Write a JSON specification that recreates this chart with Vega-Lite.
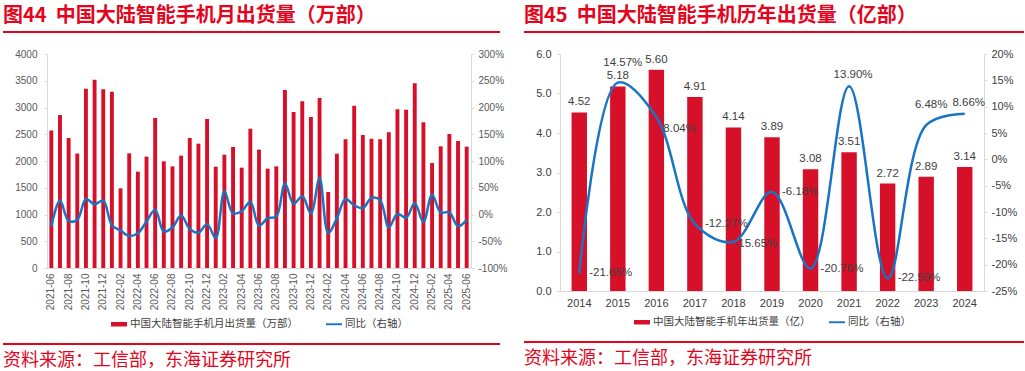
{
  "$schema": "https://vega.github.io/schema/vega-lite/v6.json",
  "background": "white",
  "padding": {"left": 3, "top": 6, "right": 0, "bottom": 0},
  "config": {
    "font": "Liberation Sans",
    "locale": {"number": {"decimal": ".", "thousands": ",", "grouping": [3], "currency": ["", ""], "minus": "-"}},
    "view": {"stroke": null},
    "axis": {"labelColor": "#595959", "labelFont": "Liberation Sans", "domainColor": "#D9D9D9", "tickColor": "#D9D9D9", "grid": false, "tickSize": 3, "labelOverlap": false},
    "legend": {"labelFont": "Noto Sans CJK SC", "labelFontSize": 10.5, "labelColor": "#404040", "labelLimit": 400, "layout": {"bottom": {"anchor": "middle"}}}
  },
  "datasets": {
    "monthly": [
      {"m": "2021-06", "ship": 2570, "yoy": -22}, {"m": "2021-07", "ship": 2860, "yoy": 26}, {"m": "2021-08", "ship": 2430, "yoy": -12},
      {"m": "2021-09", "ship": 2140, "yoy": -10}, {"m": "2021-10", "ship": 3352, "yoy": 29}, {"m": "2021-11", "ship": 3520, "yoy": 19},
      {"m": "2021-12", "ship": 3340, "yoy": 26}, {"m": "2022-01", "ship": 3296, "yoy": -20}, {"m": "2022-02", "ship": 1489, "yoy": -30},
      {"m": "2022-03", "ship": 2143, "yoy": -40}, {"m": "2022-04", "ship": 1800, "yoy": -35}, {"m": "2022-05", "ship": 2081, "yoy": -13},
      {"m": "2022-06", "ship": 2804, "yoy": 9}, {"m": "2022-07", "ship": 1994, "yoy": -32}, {"m": "2022-08", "ship": 1900, "yoy": -24},
      {"m": "2022-09", "ship": 2100, "yoy": -2}, {"m": "2022-10", "ship": 2430, "yoy": -27}, {"m": "2022-11", "ship": 2324, "yoy": -34},
      {"m": "2022-12", "ship": 2785, "yoy": -18}, {"m": "2023-01", "ship": 1894, "yoy": -44}, {"m": "2023-02", "ship": 2118, "yoy": 43},
      {"m": "2023-03", "ship": 2262, "yoy": 2}, {"m": "2023-04", "ship": 1875, "yoy": 6}, {"m": "2023-05", "ship": 2604, "yoy": 24},
      {"m": "2023-06", "ship": 2212, "yoy": -21}, {"m": "2023-07", "ship": 1857, "yoy": -7}, {"m": "2023-08", "ship": 1900, "yoy": -4},
      {"m": "2023-09", "ship": 3327, "yoy": 58}, {"m": "2023-10", "ship": 2916, "yoy": 20}, {"m": "2023-11", "ship": 3115, "yoy": 34},
      {"m": "2023-12", "ship": 2822, "yoy": 2}, {"m": "2024-01", "ship": 3178, "yoy": 68}, {"m": "2024-02", "ship": 1421, "yoy": -35},
      {"m": "2024-03", "ship": 2137, "yoy": -7}, {"m": "2024-04", "ship": 2405, "yoy": 29}, {"m": "2024-05", "ship": 3034, "yoy": 17},
      {"m": "2024-06", "ship": 2486, "yoy": 12}, {"m": "2024-07", "ship": 2417, "yoy": 31}, {"m": "2024-08", "ship": 2405, "yoy": 27},
      {"m": "2024-09", "ship": 2536, "yoy": -24}, {"m": "2024-10", "ship": 2966, "yoy": 1}, {"m": "2024-11", "ship": 2960, "yoy": -6},
      {"m": "2024-12", "ship": 3452, "yoy": 21}, {"m": "2025-01", "ship": 2723, "yoy": -14}, {"m": "2025-02", "ship": 1963, "yoy": 37},
      {"m": "2025-03", "ship": 2274, "yoy": 4}, {"m": "2025-04", "ship": 2505, "yoy": 4}, {"m": "2025-05", "ship": 2374, "yoy": -22},
      {"m": "2025-06", "ship": 2268, "yoy": -10}
    ],
    "annual": [
      {"year": "2014", "ship": 4.52, "yoy": -0.2165}, {"year": "2015", "ship": 5.18, "yoy": 0.1457},
      {"year": "2016", "ship": 5.60, "yoy": 0.0804}, {"year": "2017", "ship": 4.91, "yoy": -0.1227},
      {"year": "2018", "ship": 4.14, "yoy": -0.1565}, {"year": "2019", "ship": 3.89, "yoy": -0.0618},
      {"year": "2020", "ship": 3.08, "yoy": -0.2076}, {"year": "2021", "ship": 3.51, "yoy": 0.1390},
      {"year": "2022", "ship": 2.72, "yoy": -0.2259}, {"year": "2023", "ship": 2.89, "yoy": 0.0648},
      {"year": "2024", "ship": 3.14, "yoy": 0.0866}
    ],
    "blank": [{"t": ""}]
  },
  "spacing": 17,
  "resolve": {"scale": {"color": "independent"}, "legend": {"color": "independent"}},
  "hconcat": [
    {
      "columns": 1,
      "align": "none",
      "spacing": 11,
      "resolve": {"scale": {"color": "independent"}, "legend": {"color": "independent"}},
      "concat": [
        {
          "width": 497, "height": 2,
          "data": {"name": "blank"},
          "mark": {"type": "text"},
          "encoding": {"text": {"field": "t"}},
          "view": {"fill": "#E3051C", "stroke": null},
          "title": {"text": "图44\u00a0\u00a0中国大陆智能手机月出货量（万部）", "anchor": "start", "font": "Noto Sans CJK SC", "fontSize": 20, "fontWeight": "bold", "color": "#E3051C", "offset": 0}
        },
        {
          "columns": 1,
          "align": "none",
          "spacing": 8,
          "resolve": {"scale": {"color": "independent"}, "legend": {"color": "independent"}},
          "concat": [
            {
              "spacing": 3,
              "resolve": {"scale": {"color": "independent"}, "legend": {"color": "independent"}},
              "hconcat": [
                {
                  "width": 1, "height": 1,
                  "data": {"name": "blank"},
                  "mark": {"type": "text"},
                  "encoding": {"text": {"field": "t"}}
                },
                {
                  "width": 424, "height": 214,
                  "data": {"name": "monthly"},
                  "encoding": {
                    "x": {"field": "m", "type": "ordinal", "title": null,
                      "scale": {"paddingInner": 0.55, "paddingOuter": 0.275},
                      "axis": {"labelAngle": -90, "labelFontSize": 10, "ticks": false, "labelPadding": 5,
                        "values": ["2021-06","2021-08","2021-10","2021-12","2022-02","2022-04","2022-06","2022-08","2022-10","2022-12","2023-02","2023-04","2023-06","2023-08","2023-10","2023-12","2024-02","2024-04","2024-06","2024-08","2024-10","2024-12","2025-02","2025-04","2025-06"]}}
                  },
                  "layer": [
                    {
                      "mark": {"type": "bar"},
                      "encoding": {
                        "y": {"field": "ship", "type": "quantitative", "title": null,
                          "scale": {"domain": [0, 4000], "nice": false},
                          "axis": {"values": [0,500,1000,1500,2000,2500,3000,3500,4000], "format": "d", "labelFontSize": 10, "minExtent": 40, "labelPadding": 7}},
                        "color": {"datum": "中国大陆智能手机月出货量（万部）", "type": "nominal",
                          "scale": {"domain": ["中国大陆智能手机月出货量（万部）", "同比（右轴）"], "range": ["#D7102A", "#1874C4"]},
                          "legend": {"orient": "bottom", "direction": "horizontal", "title": null, "offset": 6, "columnPadding": 28, "labelOffset": 3,
                            "symbolSize": 256, "symbolStrokeWidth": 0,
                            "encode": {"symbols": {"update": {
                              "shape": {"signal": "datum.value === '同比（右轴）' ? 'M-1,-0.12H1V0.12H-1Z' : 'M-1,-0.28H1V0.28H-1Z'"},
                              "fill": {"signal": "datum.value === '同比（右轴）' ? '#1874C4' : '#D7102A'"},
                              "stroke": {"value": "transparent"},
                              "opacity": {"value": 1}}}}}}
                      }
                    },
                    {
                      "mark": {"type": "line", "interpolate": "catmull-rom", "strokeWidth": 2.5},
                      "encoding": {
                        "y": {"field": "yoy", "type": "quantitative", "title": null,
                          "scale": {"domain": [-100, 300], "nice": false},
                          "axis": {"orient": "right", "values": [-100,-50,0,50,100,150,200,250,300], "labelExpr": "datum.value + '%'", "labelFontSize": 10, "labelPadding": 4}},
                        "color": {"datum": "同比（右轴）", "type": "nominal"}
                      }
                    }
                  ],
                  "resolve": {"scale": {"y": "independent"}}
                }
              ]
            },
            {
              "width": 497, "height": 2,
              "data": {"name": "blank"},
              "mark": {"type": "text"},
              "encoding": {"text": {"field": "t"}},
              "view": {"fill": "#E3051C", "stroke": null},
              "title": {"text": "资料来源：工信部，东海证券研究所", "orient": "bottom", "anchor": "start", "font": "Noto Sans CJK SC", "fontSize": 18, "fontWeight": "normal", "color": "#E3051C", "offset": 3}
            }
          ]
        }
      ]
    },
    {
      "columns": 1,
      "align": "none",
      "spacing": 11,
      "resolve": {"scale": {"color": "independent"}, "legend": {"color": "independent"}},
      "concat": [
        {
          "width": 500, "height": 2,
          "data": {"name": "blank"},
          "mark": {"type": "text"},
          "encoding": {"text": {"field": "t"}},
          "view": {"fill": "#E3051C", "stroke": null},
          "title": {"text": "图45\u00a0\u00a0中国大陆智能手机历年出货量（亿部）", "anchor": "start", "font": "Noto Sans CJK SC", "fontSize": 20, "fontWeight": "bold", "color": "#E3051C", "offset": 0}
        },
        {
          "columns": 1,
          "align": "none",
          "spacing": 8,
          "resolve": {"scale": {"color": "independent"}, "legend": {"color": "independent"}},
          "concat": [
            {
              "spacing": 3,
              "resolve": {"scale": {"color": "independent"}, "legend": {"color": "independent"}},
              "hconcat": [
                {
                  "width": 1, "height": 1,
                  "data": {"name": "blank"},
                  "mark": {"type": "text"},
                  "encoding": {"text": {"field": "t"}}
                },
                {
                  "width": 424, "height": 237,
                  "data": {"name": "annual"},
                  "encoding": {
                    "x": {"field": "year", "type": "ordinal", "title": null,
                      "scale": {"paddingInner": 0.6, "paddingOuter": 0.3},
                      "axis": {"labelAngle": 0, "labelFontSize": 11, "ticks": false, "labelPadding": 6, "labelColor": "#404040"}}
                  },
                  "layer": [
                    {
                      "encoding": {
                        "y": {"field": "ship", "type": "quantitative", "title": null,
                          "scale": {"domain": [0, 6], "nice": false},
                          "axis": {"values": [0,1,2,3,4,5,6], "format": ".1f", "labelFontSize": 11, "minExtent": 32, "labelPadding": 6, "labelColor": "#404040", "labelOverlap": false}}
                      },
                      "layer": [
                        {
                          "mark": {"type": "bar"},
                          "encoding": {
                            "color": {"datum": "中国大陆智能手机年出货量（亿）", "type": "nominal",
                              "scale": {"domain": ["中国大陆智能手机年出货量（亿）", "同比（右轴）"], "range": ["#D7102A", "#1874C4"]},
                              "legend": {"orient": "bottom", "direction": "horizontal", "title": null, "offset": 6, "columnPadding": 18, "labelOffset": 3,
                                "symbolSize": 256, "symbolStrokeWidth": 0,
                                "encode": {"symbols": {"update": {
                                  "shape": {"signal": "datum.value === '同比（右轴）' ? 'M-1,-0.12H1V0.12H-1Z' : 'M-1,-0.28H1V0.28H-1Z'"},
                                  "fill": {"signal": "datum.value === '同比（右轴）' ? '#1874C4' : '#D7102A'"},
                                  "stroke": {"value": "transparent"},
                                  "opacity": {"value": 1}}}}}}
                          }
                        },
                        {
                          "mark": {"type": "text", "fontSize": 11.5, "color": "#404040", "baseline": "middle", "dy": -10},
                          "encoding": {
                            "text": {"field": "ship", "type": "quantitative", "format": ".2f"}
                          }
                        }
                      ]
                    },
                    {
                      "encoding": {
                        "y": {"field": "yoy", "type": "quantitative", "title": null,
                          "scale": {"domain": [-0.25, 0.2], "nice": false},
                          "axis": {"orient": "right", "values": [-0.25,-0.2,-0.15,-0.1,-0.05,0,0.05,0.1,0.15,0.2], "format": ".0%", "labelFontSize": 11, "labelPadding": 4, "labelColor": "#404040", "labelOverlap": false}}
                      },
                      "layer": [
                        {
                          "mark": {"type": "line", "interpolate": "catmull-rom", "strokeWidth": 2.5},
                          "encoding": {
                            "color": {"datum": "同比（右轴）", "type": "nominal"}
                          }
                        },
                        {
                          "transform": [{"filter": {"field": "year", "oneOf": ["2014", "2017", "2019", "2020", "2022"]}}],
                          "mark": {"type": "text", "fontSize": 11.5, "color": "#404040", "baseline": "middle", "align": "left", "dx": 10},
                          "encoding": {"text": {"field": "yoy", "type": "quantitative", "format": ".2%"}}
                        },
                        {
                          "transform": [{"filter": {"field": "year", "oneOf": ["2018"]}}],
                          "mark": {"type": "text", "fontSize": 11.5, "color": "#404040", "baseline": "middle", "align": "left", "dx": 1, "dy": 2},
                          "encoding": {"text": {"field": "yoy", "type": "quantitative", "format": ".2%"}}
                        },
                        {
                          "transform": [{"filter": {"field": "year", "oneOf": ["2016"]}}],
                          "mark": {"type": "text", "fontSize": 11.5, "color": "#404040", "baseline": "middle", "align": "left", "dx": 7, "dy": 12},
                          "encoding": {"text": {"field": "yoy", "type": "quantitative", "format": ".2%"}}
                        },
                        {
                          "transform": [{"filter": {"field": "year", "oneOf": ["2015", "2023"]}}],
                          "mark": {"type": "text", "fontSize": 11.5, "color": "#404040", "baseline": "middle", "align": "center", "dx": 5, "dy": -20},
                          "encoding": {"text": {"field": "yoy", "type": "quantitative", "format": ".2%"}}
                        },
                        {
                          "transform": [{"filter": {"field": "year", "oneOf": ["2021", "2024"]}}],
                          "mark": {"type": "text", "fontSize": 11.5, "color": "#404040", "baseline": "middle", "align": "center", "dx": 4, "dy": -11},
                          "encoding": {"text": {"field": "yoy", "type": "quantitative", "format": ".2%"}}
                        }
                      ]
                    }
                  ],
                  "resolve": {"scale": {"y": "independent"}}
                }
              ]
            },
            {
              "width": 500, "height": 2,
              "data": {"name": "blank"},
              "mark": {"type": "text"},
              "encoding": {"text": {"field": "t"}},
              "view": {"fill": "#E3051C", "stroke": null},
              "title": {"text": "资料来源：工信部，东海证券研究所", "orient": "bottom", "anchor": "start", "font": "Noto Sans CJK SC", "fontSize": 18, "fontWeight": "normal", "color": "#E3051C", "offset": 3}
            }
          ]
        }
      ]
    }
  ]
}
